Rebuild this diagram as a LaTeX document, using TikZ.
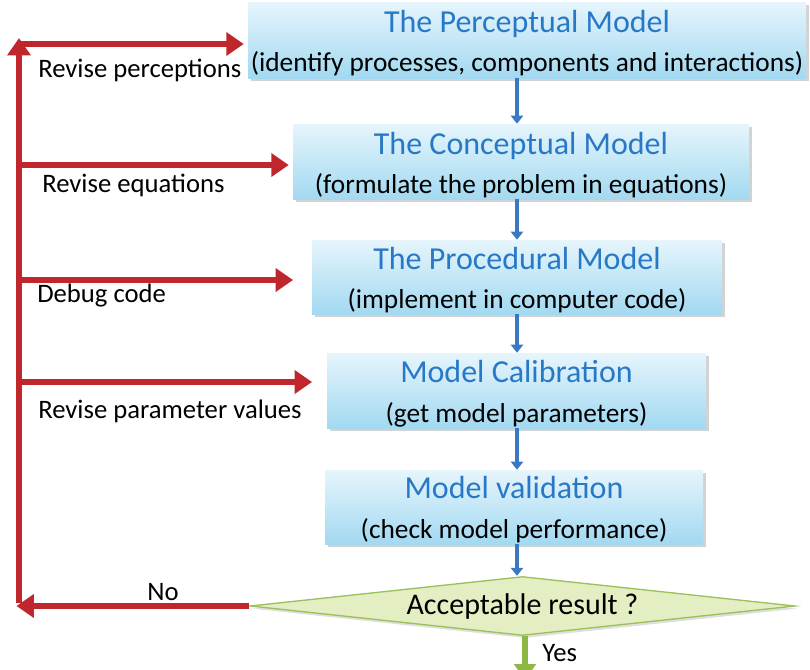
\documentclass[tikz,border=0pt]{standalone}
\usepackage{fontspec}
\setmainfont{Carlito}
\usetikzlibrary{arrows.meta,shapes.geometric,shadows,calc}
\definecolor{redarr}{HTML}{C0272D}
\definecolor{bluearr}{HTML}{3A78C2}
\definecolor{titleblue}{HTML}{2878C8}
\definecolor{boxtop}{HTML}{E6F5FC}
\definecolor{boxbot}{HTML}{A2D9F1}
\definecolor{diafill}{HTML}{E3EFC2}
\definecolor{diaedge}{HTML}{9CC05A}
\definecolor{greenarr}{HTML}{8DB843}
\tikzset{
  modelbox/.style={rectangle, inner sep=0pt, top color=boxtop, bottom color=boxbot,
    drop shadow={opacity=0.35, shadow xshift=2pt, shadow yshift=-2pt}},
  boxtext/.style={inner sep=0pt, align=center, font=\fontsize{20.5}{29.5}\selectfont},
  redarrow/.style={draw=redarr, line width=5pt, -{Triangle[length=13pt,width=17pt]}},
  bluearrow/.style={draw=bluearr, line width=3pt, -{Triangle[length=6pt,width=9pt]}},
  sidelabel/.style={anchor=west, inner sep=0pt, font=\fontsize{20}{24}\selectfont},
}
\newcommand{\ttl}[1]{{\color{titleblue}\fontsize{24}{29.5}\selectfont #1}}
\begin{document}
\begin{tikzpicture}[x=0.75pt,y=-0.75pt]
\useasboundingbox (0,0) rectangle (810,669);
\fill[white] (0,0) rectangle (810,669);

\node[modelbox, minimum width=418.5pt, minimum height=57pt] (b1) at (527,40) {};
\node[modelbox, minimum width=342pt, minimum height=56.25pt] (b2) at (521,161.5) {};
\node[modelbox, minimum width=307.5pt, minimum height=55.5pt] (b3) at (517,277) {};
\node[modelbox, minimum width=284.25pt, minimum height=56.25pt] (b4) at (516.5,390.5) {};
\node[modelbox, minimum width=283.5pt, minimum height=55.5pt] (b5) at (514,507) {};

\node[boxtext] (t1) at ([yshift=-2.5pt]b1.center)
  {\ttl{The Perceptual Model}\\(identify processes, components and interactions)};
\node[boxtext] (t2) at ([yshift=-2.5pt]b2.center)
  {\ttl{The Conceptual Model}\\(formulate the problem in equations)};
\node[boxtext] (t3) at ([yshift=-2.5pt]b3.center)
  {\ttl{The Procedural Model}\\(implement in computer code)};
\node[boxtext] (t4) at ([yshift=-2.5pt]b4.center)
  {\ttl{Model Calibration}\\(get model parameters)};
\node[boxtext] (t5) at ([yshift=-2pt]b5.center)
  {\ttl{Model validation}\\(check model performance)};

\node[diamond, aspect=9.2, inner sep=0pt, minimum width=408.75pt, minimum height=44.25pt,
  fill=diafill, draw=diaedge, line width=1pt,
  drop shadow={opacity=0.25, shadow xshift=1.5pt, shadow yshift=-2pt},
  font=\fontsize{22.5}{26}\selectfont] (dia) at (522.5,606) {Acceptable result ?};

% blue arrows
\draw[bluearrow] (b1.south -| 517,0) -- (b2.north -| 517,0);
\draw[bluearrow] (b2.south -| 517,0) -- (b3.north -| 517,0);
\draw[bluearrow] (b3.south -| 517,0) -- (b4.north -| 517,0);
\draw[bluearrow] (b4.south -| 517,0) -- (b5.north -| 517,0);
\draw[bluearrow] (b5.south -| 517,0) -- (dia.north -| 517,0);

% green yes arrow
\coordinate (yesend) at (525,680);
\draw[draw=greenarr, line width=5pt, -{Triangle[length=12pt,width=16pt]}] (dia.south -| yesend) -- (yesend);
\node[sidelabel] (yes) at (542,653) {Yes};

% red feedback
\coordinate (corner) at (19,606);
\coordinate (top) at (19,38);
\draw[redarrow] (dia.west) -- ([xshift=-1.9pt]corner);
\node[font=\fontsize{20}{24}\selectfont, inner sep=0pt] (no) at (163,592) {No};
\draw[redarrow] ([yshift=1.9pt]corner) -- (top);

\coordinate (r1) at (19,44);
\coordinate (r2) at (19,165);
\coordinate (r3) at (19,280);
\coordinate (r4) at (19,382);
\draw[redarrow, shorten >=3pt] (r1) -- (r1 -| b1.west);
\draw[redarrow, shorten >=3pt] (r2) -- (r2 -| b2.west);
\draw[redarrow, shorten >=14pt] (r3) -- (r3 -| b3.west);
\draw[redarrow, shorten >=11pt] (r4) -- (r4 -| b4.west);

\node[sidelabel] (l1) at (38,70) {Revise perceptions};
\node[sidelabel] (l2) at (42,185) {Revise equations};
\node[sidelabel] (l3) at (37,296) {Debug code};
\node[sidelabel] (l4) at (38,411) {Revise parameter values};
\end{tikzpicture}
\end{document}
